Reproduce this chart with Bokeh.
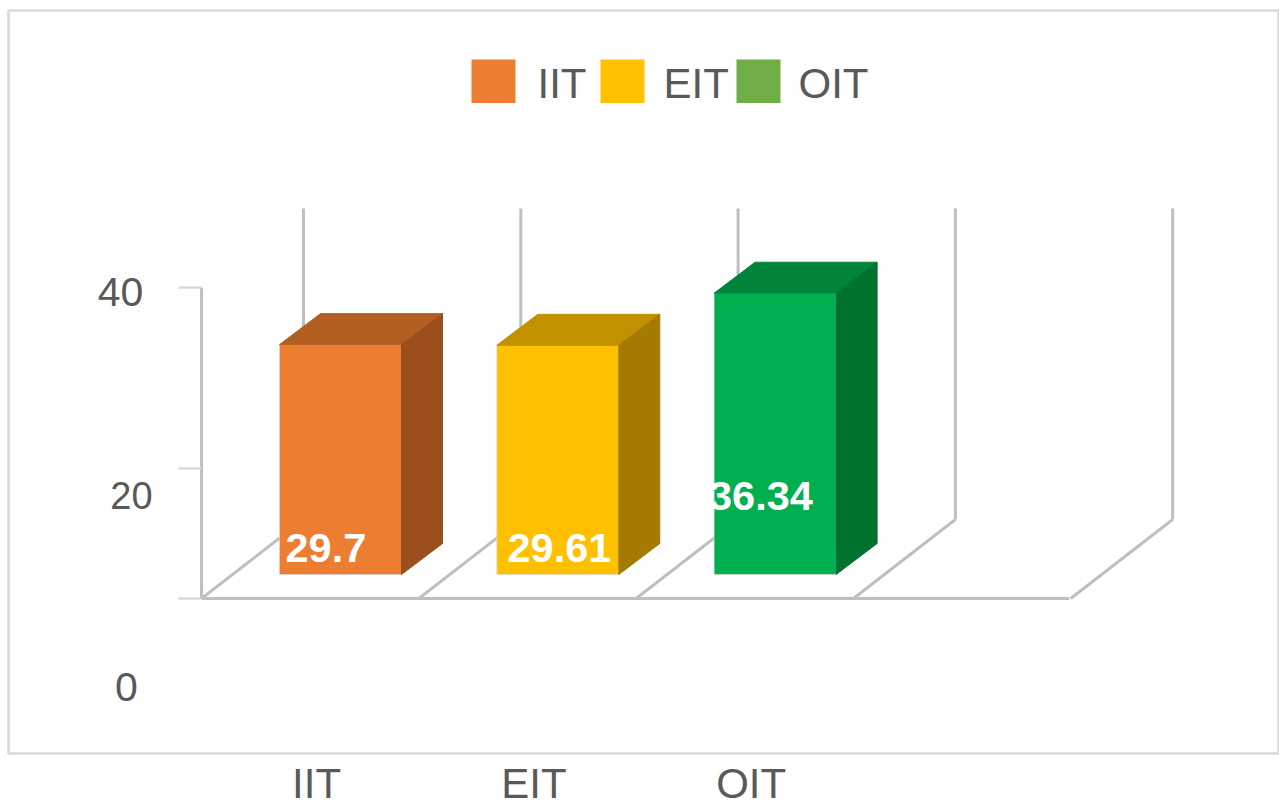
from bokeh.plotting import figure
from bokeh.models import Range1d, FixedTicker
from bokeh.core.properties import value
from bokeh.embed import file_html
from bokeh.resources import INLINE

categories = ["IIT", "EIT", "OIT"]
values = [29.7, 29.61, 36.34]
front_colors = ["#ED7D31", "#FFC000", "#00B050"]
top_colors = ["#B45F22", "#C29100", "#00843B"]
side_colors = ["#9A4F1C", "#A47B00", "#00722F"]
legend_colors = ["#ED7D31", "#FFC000", "#70AD47"]
value_labels = ["29.7", "29.61", "36.34"]
y_tick_labels = ["40", "20", "0"]

PX_X, PX_Y = 217.3, 7.74           # pixels per data unit
X0_PX, Y0_PX = 340.0, 574.0        # page pixel of category 0, value 0


def dx(px):
    return (px - X0_PX) / PX_X


def dy(px):
    return (Y0_PX - px) / PX_Y


FONT = "Liberation Sans"
GREY = "#595959"
LINE = "#BFBFBF"
LIGHT = "#D9D9D9"

p = figure(
    width=1279, height=804, frame_width=1270, frame_height=743,
    output_backend="svg", toolbar_location=None,
    x_range=Range1d(dx(8), dx(1278)), y_range=Range1d(dy(753), dy(10)),
    min_border_left=8, min_border_right=1, min_border_top=10, min_border_bottom=0,
    y_axis_location=None,
)
p.grid.visible = False
p.outline_line_color = LIGHT
p.outline_line_width = 2.5
p.background_fill_color = "white"
p.border_fill_color = "white"

# category axis
ticks = [round(i + dx(316), 3) for i in range(len(categories))]
ax = p.xaxis[0]
ax.ticker = FixedTicker(ticks=ticks)
ax.major_label_overrides = {t: c for t, c in zip(ticks, categories)}
ax.axis_line_color = None
ax.major_tick_line_color = None
ax.minor_tick_line_color = None
ax.major_label_text_font = FONT
ax.major_label_text_font_size = "42px"
ax.major_label_text_color = GREY
ax.major_label_standoff = 0

# walls and floor
n_sep = 5
fx = [dx(201) + i for i in range(n_sep)]
bx = [dx(303) + i for i in range(n_sep)]
floor_y, back_y, top_y = dy(598), dy(519), dy(208)
for a, b in zip(fx, bx):
    p.line([a, b], [floor_y, back_y], line_color=LINE, line_width=3)
    p.line([b, b], [back_y, top_y], line_color=LINE, line_width=3)
p.line([dx(201), dx(1069)], [floor_y, floor_y], line_color=LINE, line_width=3)

# value axis stub
p.line([dx(201), dx(201)], [dy(287), dy(598)], line_color=LINE, line_width=3)
tick_px = [287, 468, 598]
for t in tick_px:
    p.line([dx(178), dx(201)], [dy(t), dy(t)], line_color=LIGHT, line_width=2.5)
y_label_px = [(120, 291, "41px"), (131, 495, "38px"), (126, 686, "41px")]
for label, (lx, ly, size) in zip(y_tick_labels, y_label_px):
    p.text(x=[dx(lx)], y=[dy(ly)], text=[label],
           text_font=value(FONT), text_font_size=size, text_color=GREY,
           text_align="center", text_baseline="middle")

# 3D bars
half = 61 / PX_X
depth_x, depth_y = 41 / PX_X, 31 / PX_Y
xs = list(range(len(values)))
p.quad(left=[x - half for x in xs], right=[x + half for x in xs], bottom=[0] * 3, top=values,
       fill_color=front_colors, line_color="#D8D8D8", line_width=1, line_alpha=0.7)
p.patches(
    xs=[[x - half, x + half, x + half + depth_x, x - half + depth_x] for x in xs],
    ys=[[v, v, v + depth_y, v + depth_y] for v in values],
    fill_color=top_colors, line_color=top_colors, line_width=1)
p.patches(
    xs=[[x + half, x + half + depth_x, x + half + depth_x, x + half] for x in xs],
    ys=[[0, depth_y, v + depth_y, v] for v in values],
    fill_color=side_colors, line_color=side_colors, line_width=1)

# data labels
p.text(x=[dx(285), dx(507), dx(708.5)], y=[dy(547), dy(547), dy(495)], text=value_labels,
       text_font=value(FONT), text_font_style="bold", text_font_size="41.5px", text_color="white",
       text_align="left", text_baseline="middle")

# legend keys and names, placed where the reference has them
swatch_px = [471, 600, 736]
name_px = [537, 663, 798]
p.quad(left=[dx(s) for s in swatch_px], right=[dx(s + 44) for s in swatch_px],
       bottom=[dy(102.5)] * 3, top=[dy(59)] * 3, fill_color=legend_colors, line_color=None)
p.text(x=[dx(n) for n in name_px], y=[dy(83)] * 3, text=categories,
       text_font=value(FONT), text_font_size="42px", text_color=GREY,
       text_align="left", text_baseline="middle")

open("out.html", "w").write(file_html(p, INLINE))
